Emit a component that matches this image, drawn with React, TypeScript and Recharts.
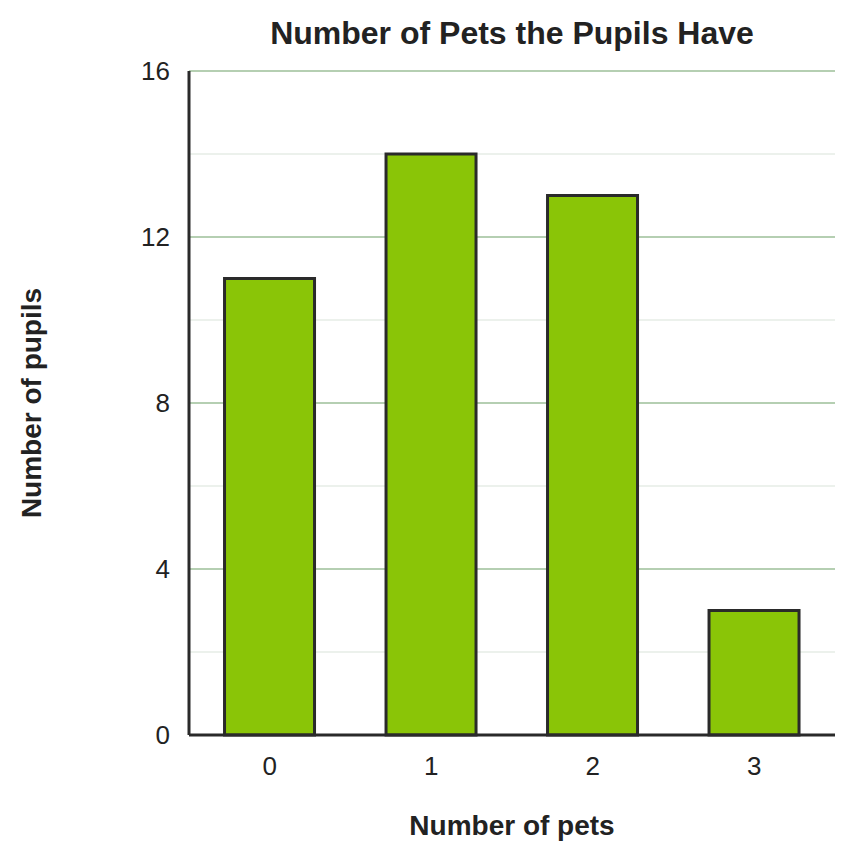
import React from 'react';
import { BarChart, Bar, XAxis, YAxis, CartesianGrid } from 'recharts';

const petCounts = ['0', '1', '2', '3'];
const pupils = [11, 14, 13, 3];
const yTicks = [0, 4, 8, 12, 16];
const minorLines = [2, 6, 10, 14];
const majorLines = [4, 8, 12, 16];

const data = petCounts.map((pets, i) => ({ pets, pupils: pupils[i] }));

const font = '"Liberation Sans", Arial, sans-serif';

export default function App() {
  return (
    <div style={{ position: 'absolute', left: 0, top: 0, width: 856, height: 861, fontFamily: font, color: '#222' }}>
      <BarChart
        width={856}
        height={861}
        data={data}
        margin={{ top: 71, right: 21, bottom: 66, left: 0 }}
        barCategoryGap="22%"
        style={{ position: 'absolute', left: 0, top: 0 }}
      >
        <CartesianGrid vertical={false} horizontalValues={minorLines} stroke="#e6ece6" strokeWidth={1.5} />
        <CartesianGrid vertical={false} horizontalValues={majorLines} stroke="#9dbf98" strokeWidth={1.5} />
        <XAxis
          dataKey="pets"
          height={60}
          axisLine={{ stroke: '#2a2a2a', strokeWidth: 3 }}
          tickLine={false}
          tickMargin={16}
          tick={{ fill: '#222', fontSize: 26, fontFamily: font }}
        />
        <YAxis
          width={189}
          domain={[0, 16]}
          ticks={yTicks}
          axisLine={{ stroke: '#2a2a2a', strokeWidth: 3 }}
          tickLine={false}
          tickMargin={13}
          tick={{ fill: '#222', fontSize: 26, fontFamily: font }}
        />
        <Bar dataKey="pupils" fill="#8ac507" stroke="#2a2a2a" strokeWidth={3} isAnimationActive={false} />
      </BarChart>
      <div
        style={{
          position: 'absolute',
          left: 189,
          width: 646,
          top: 15,
          textAlign: 'center',
          fontSize: 32,
          fontWeight: 'bold',
        }}
      >
        Number of Pets the Pupils Have
      </div>
      <div
        style={{
          position: 'absolute',
          left: 189,
          width: 646,
          top: 810,
          textAlign: 'center',
          fontSize: 28,
          fontWeight: 'bold',
        }}
      >
        Number of pets
      </div>
      <div
        style={{
          position: 'absolute',
          left: 32,
          top: 403,
          transform: 'translate(-50%, -50%) rotate(-90deg)',
          whiteSpace: 'nowrap',
          fontSize: 28,
          fontWeight: 'bold',
        }}
      >
        Number of pupils
      </div>
    </div>
  );
}
